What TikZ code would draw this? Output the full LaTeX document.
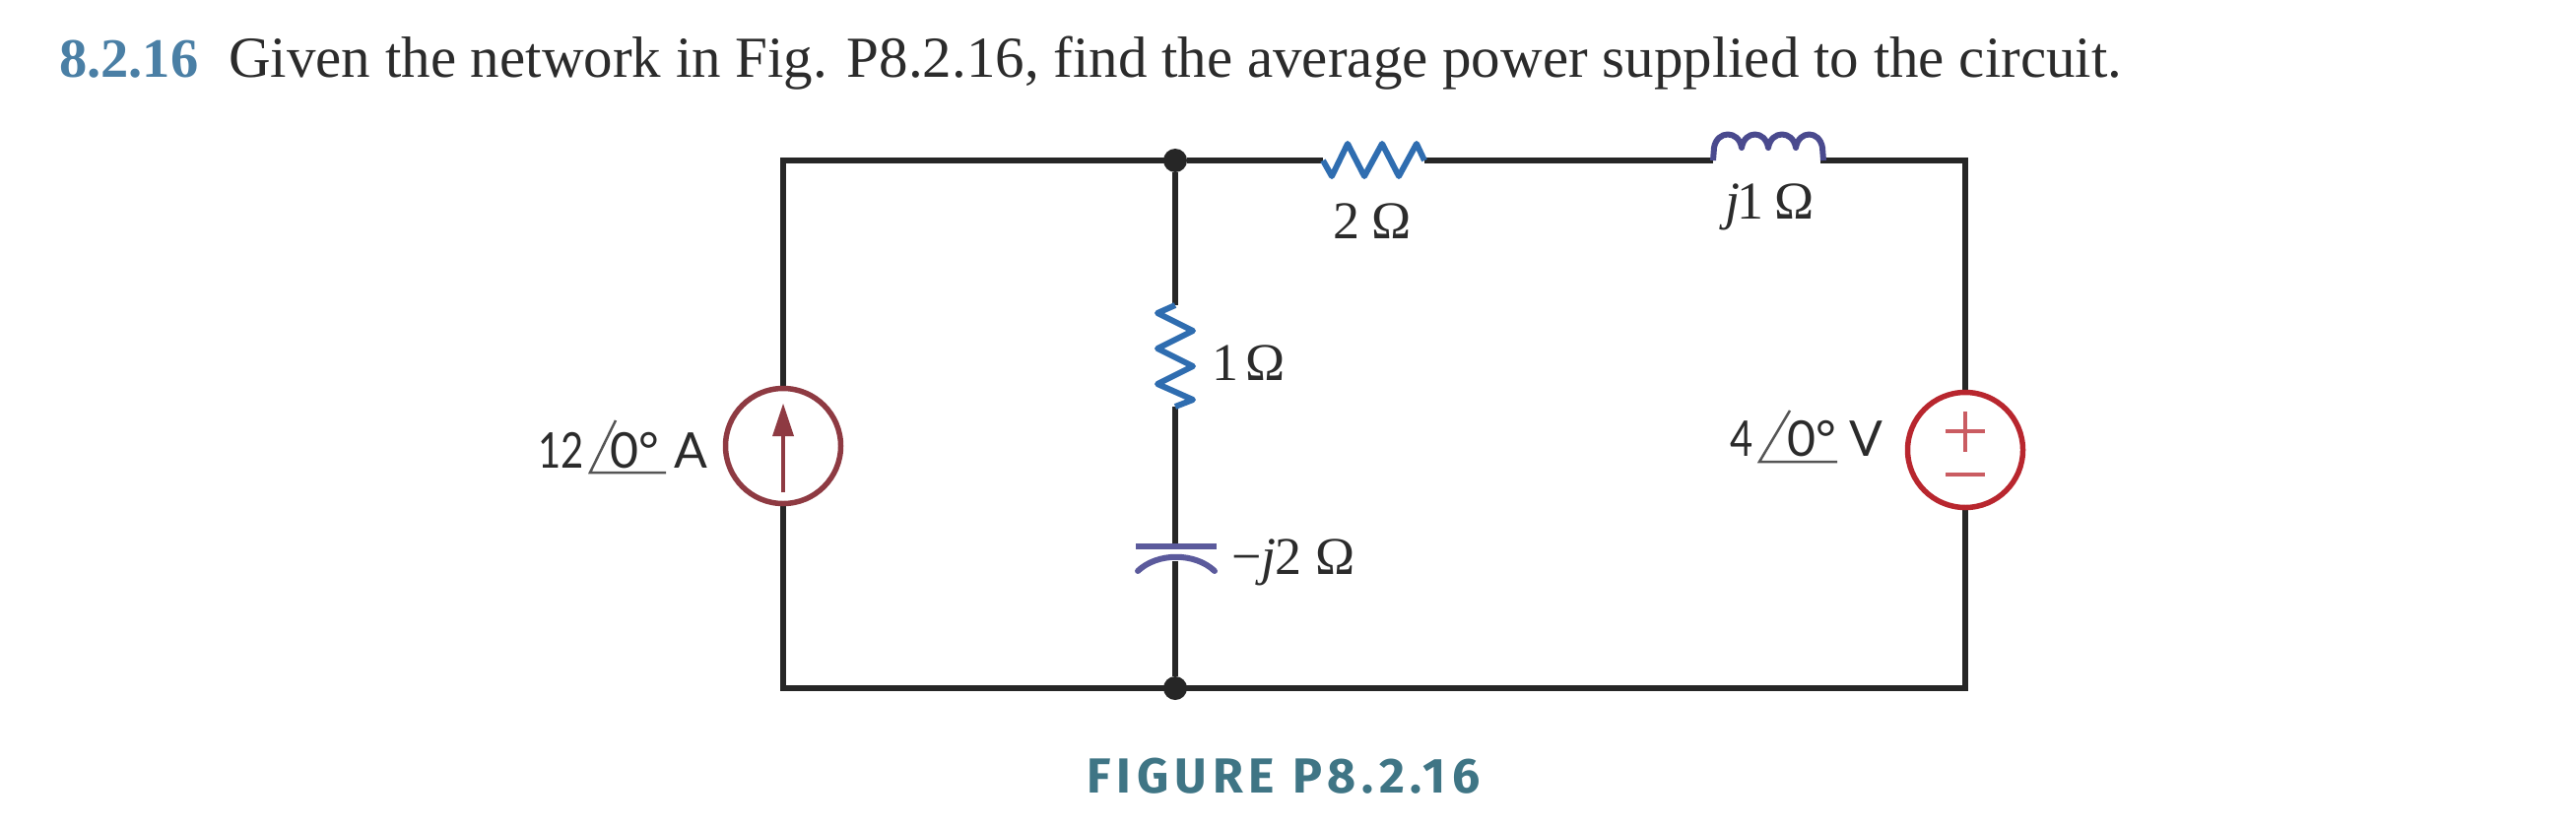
\documentclass[tikz,border=0pt]{standalone}
\usepackage{fontspec}
\setmainfont{Liberation Serif}
\newfontfamily\labelfont[FakeStretch=0.8]{Lato}
\newfontfamily\widefont{Lato}
\newfontfamily\capfont[LetterSpace=12]{Fira Sans}
\definecolor{wirecol}{HTML}{262626}
\definecolor{rescol}{HTML}{2F6DB0}
\definecolor{indcol}{HTML}{4A4A8E}
\definecolor{capcol}{HTML}{5B5A9C}
\definecolor{srcI}{HTML}{8E3A42}
\definecolor{srcV}{HTML}{B8262E}
\definecolor{numcol}{HTML}{4A7FA5}
\definecolor{figcol}{HTML}{3F7585}
\definecolor{txtcol}{HTML}{2B2B2B}
\tikzset{
  wire/.style={draw=wirecol,line width=5.5pt,line join=miter},
  resistor/.style={draw=rescol,line width=6pt,line join=round},
  inductor/.style={draw=indcol,line width=6pt,line join=round},
  capplate/.style={draw=capcol,line width=6pt},
  source/.style={circle,draw,line width=5.5pt,minimum size=117pt,inner sep=0pt,fill=white},
  junction/.style={circle,fill=wirecol,minimum size=24pt,inner sep=0pt},
  svalue/.style={anchor=base west,inner sep=0pt,text=txtcol,font=\fontsize{54}{58}\selectfont},
  qvalue/.style={anchor=base west,inner sep=0pt,text=txtcol,font=\labelfont\fontsize{50}{54}\selectfont},
  anglemark/.style={draw=txtcol!80,line width=2.5pt},
}
\begin{document}
\begin{tikzpicture}[x=1pt,y=-1pt]
\useasboundingbox (0,0) rectangle (2615,838);
% text
\node[anchor=base west,inner sep=0pt,text=numcol,font=\bfseries\fontsize{56.5}{60}\selectfont] (num) at (60,78) {8.2.16};
\node[anchor=base west,inner sep=0pt,text=txtcol,font=\fontsize{59}{63}\selectfont] (title) at (232,78) {Given the network in Fig. P8.2.16, find the average power supplied to the circuit.};
\node[anchor=base west,inner sep=0pt,text=figcol,font=\capfont\bfseries\fontsize{50}{54}\selectfont] (fig) at (1103,805) {FIGURE P8.2.16};
% key points
\coordinate (tl) at (795,163);
\coordinate (bl) at (795,699);
\coordinate (tr) at (1995,163);
\coordinate (br) at (1995,699);
\node[junction] (jt) at (1193,163) {};
\node[junction] (jb) at (1193,699) {};
\coordinate (r2a) at (1343,163);
\coordinate (r2b) at (1446,163);
\coordinate (la) at (1739,163);
\coordinate (lb) at (1851,163);
\coordinate (r1a) at (1193,310);
\coordinate (r1b) at (1193,413);
\coordinate (ca) at (1193,555);
\coordinate (cb) at (1193,570);
% wires
\draw[wire,line cap=rect] (jt) -- (tl) -- (bl) -- (jb);
\draw[wire] (jt) -- (r2a);
\draw[wire] (r2b) -- (la);
\draw[wire,line cap=rect] (lb) -- (tr) -- (br) -- (jb);
\draw[wire] (jt) -- (r1a);
\draw[wire] (r1b) -- (ca);
\draw[wire] (cb) -- (jb);
% sources
\node[source,draw=srcI] (isrc) at (795,453) {};
\node[source,draw=srcV] (vsrc) at (1995,457) {};
\draw[draw=srcI,line width=3.5pt] (795,500) -- (795,438);
\fill[srcI] (795,410) -- (806,443) -- (784,443) -- cycle;
\draw[draw=srcV!75,line width=3.5pt] (1975,438) -- (2015,438) (1995,418) -- (1995,459);
\draw[draw=srcV!75,line width=3.5pt] (1975,482) -- (2015,482);
% 2 ohm resistor
\draw[resistor] (r2a) -- (1352,179) -- (1368,146) -- (1385,179) -- (1403,146) -- (1420,179) -- (1438,146) -- (r2b);
% 1 ohm resistor
\draw[resistor] (r1a) -- (1175,318) -- (1211,336) -- (1175,354) -- (1211,372) -- (1175,390) -- (1211,406) -- (r1b);
% inductor
\draw[inductor] (la) -- (1740,150) .. controls (1743,132) and (1765,132) .. (1768,150)
  .. controls (1771,132) and (1792,132) .. (1795,150)
  .. controls (1798,132) and (1820,132) .. (1823,150)
  .. controls (1826,132) and (1847,132) .. (1850,150) -- (lb);
% capacitor
\draw[capplate] (1153,555) -- (1235,555);
\draw[capplate,line cap=round] (1155,580) .. controls (1175,561) and (1213,561) .. (1233,580);
% labels
\node[svalue] (l2) at (1353,242) {2\kern12pt Ω};
\node[svalue] (lj1) at (1751,222) {\textit{j}\kern-3pt 1\kern11pt Ω};
\node[svalue] (l1) at (1230,386) {1\kern7pt Ω};
\node[svalue] (lc) at (1250,583) {−\textit{j}\kern-1pt 2\kern14pt Ω};
\node[qvalue] (li) at (546,475) {12\kern27pt {\widefont 0°\kern15pt A}};
\node[qvalue] (lv) at (1756,463) {4\kern35pt {\widefont 0°\kern13pt V}};
\draw[anglemark] (625,427) -- (599,480) -- (676,480);
\draw[anglemark] (1817,417) -- (1786,469) -- (1865,469);
\end{tikzpicture}
\end{document}
